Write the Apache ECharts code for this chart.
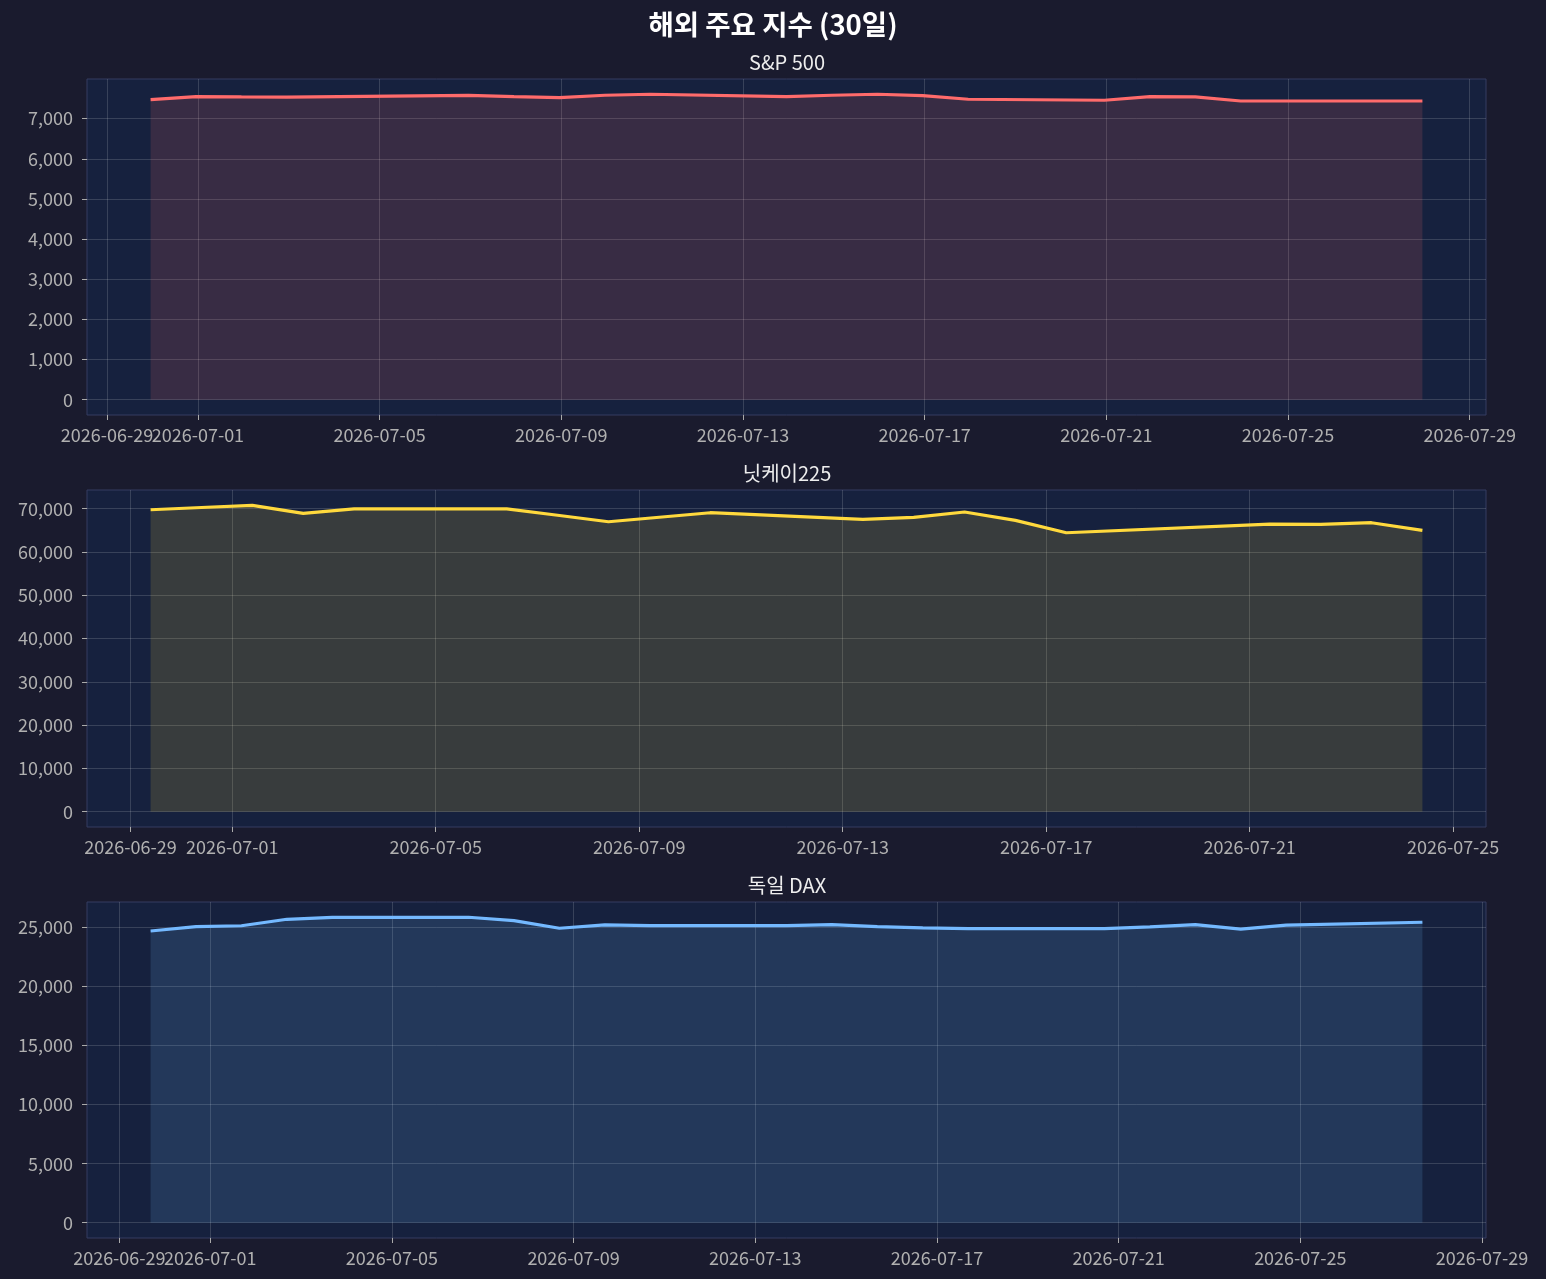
<!DOCTYPE html>
<html>
<head>
<meta charset="utf-8">
<title>해외 주요 지수 (30일)</title>
<script src="https://cdn.jsdelivr.net/npm/echarts@6/dist/echarts.min.js"></script>
<style>
    html, body { margin: 0; padding: 0; background: #1a1b2e; }
    #chart { width: 1546px; height: 1279px; }
</style>
</head>
<body>
<div id="chart"></div>
<script>
// S&P 500 (종가 시각 포함)
var spDates = ['2026-06-29 23:00', '2026-06-30 23:00', '2026-07-01 23:00', '2026-07-02 23:00',
    '2026-07-06 23:00', '2026-07-07 23:00', '2026-07-08 23:00', '2026-07-09 23:00', '2026-07-10 23:00',
    '2026-07-13 23:00', '2026-07-14 23:00', '2026-07-15 23:00', '2026-07-16 23:00', '2026-07-17 23:00',
    '2026-07-20 23:00', '2026-07-21 23:00', '2026-07-22 23:00', '2026-07-23 23:00', '2026-07-24 23:00',
    '2026-07-27 23:00'];
var spValues = [7473, 7548, 7540, 7535,
    7578, 7548, 7523, 7583, 7607,
    7548, 7583, 7607, 7573, 7483,
    7458, 7548, 7540, 7440, 7440,
    7440];

// 닛케이225
var nkDates = ['2026-06-29 09:30', '2026-06-30 09:30', '2026-07-01 09:30', '2026-07-02 09:30', '2026-07-03 09:30',
    '2026-07-06 09:30', '2026-07-07 09:30', '2026-07-08 09:30', '2026-07-09 09:30', '2026-07-10 09:30',
    '2026-07-13 09:30', '2026-07-14 09:30', '2026-07-15 09:30', '2026-07-16 09:30', '2026-07-17 09:30',
    '2026-07-21 09:30', '2026-07-22 09:30', '2026-07-23 09:30', '2026-07-24 09:30'];
var nkValues = [69760, 70270, 70780, 68930, 69950,
    69950, 68490, 66990, 68030, 69070,
    67530, 68000, 69230, 67300, 64440,
    66450, 66380, 66760, 64990];

// 독일 DAX
var daxDates = ['2026-06-29 16:30', '2026-06-30 16:30', '2026-07-01 16:30', '2026-07-02 16:30', '2026-07-03 16:30',
    '2026-07-06 16:30', '2026-07-07 16:30', '2026-07-08 16:30', '2026-07-09 16:30', '2026-07-10 16:30',
    '2026-07-13 16:30', '2026-07-14 16:30', '2026-07-15 16:30', '2026-07-16 16:30', '2026-07-17 16:30',
    '2026-07-20 16:30', '2026-07-21 16:30', '2026-07-22 16:30', '2026-07-23 16:30', '2026-07-24 16:30',
    '2026-07-27 16:30'];
var daxValues = [24710, 25085, 25150, 25700, 25860,
    25870, 25590, 24940, 25220, 25170,
    25170, 25240, 25085, 24980, 24910,
    24910, 25050, 25250, 24860, 25200,
    25450];

// 눈금
var dateTicks = ['2026-06-29', '2026-07-01', '2026-07-05', '2026-07-09', '2026-07-13',
    '2026-07-17', '2026-07-21', '2026-07-25', '2026-07-29'];
var spTicks = [0, 1000, 2000, 3000, 4000, 5000, 6000, 7000];
var nkTicks = [0, 10000, 20000, 30000, 40000, 50000, 60000, 70000];
var daxTicks = [0, 5000, 10000, 15000, 20000, 25000];

var FONT = '"Noto Sans CJK KR", "Noto Sans", sans-serif';
var LABEL_STYLE = { color: '#b0b0b0', fontSize: 18, fontFamily: FONT };

var indexChartManager = {
    //초기화
    initPage: function () {
        var myChart = echarts.init(document.getElementById('chart'), null, { renderer: 'canvas' });
        var panels = [
            { name: 'S&P 500', dates: spDates, values: spValues, ticks: spTicks, color: '#ff6b6b', top: 79, height: 336 },
            { name: '닛케이225', dates: nkDates, values: nkValues, ticks: nkTicks, color: '#ffd93d', top: 490, height: 337 },
            { name: '독일 DAX', dates: daxDates, values: daxValues, ticks: daxTicks, color: '#74b9ff', top: 902, height: 336 }
        ];
        var option = {
            backgroundColor: '#1a1b2e',
            animation: false,
            title: [{
                text: '해외 주요 지수 (30일)',
                left: 'center',
                top: 6,
                textStyle: { color: '#ffffff', fontSize: 27.5, fontWeight: 'bold', fontFamily: FONT }
            }],
            grid: [],
            xAxis: [],
            yAxis: [],
            series: []
        };
        for (var i = 0; i < panels.length; i++) {
            indexChartManager.addPanel(option, panels[i], i);
        }
        myChart.setOption(option);
    },
    //문자열 -> ms (로컬 시각)
    toTime: function (s) {
        var p = s.split(/[- :]/);
        return new Date(+p[0], +p[1] - 1, +p[2], +(p[3] || 0), +(p[4] || 0)).getTime();
    },
    //ms -> yyyy-MM-dd
    fmtDate: function (v) {
        var d = new Date(v);
        var mm = ('0' + (d.getMonth() + 1)).slice(-2), dd = ('0' + d.getDate()).slice(-2);
        return d.getFullYear() + '-' + mm + '-' + dd;
    },
    //패널 하나 추가
    addPanel: function (option, p, idx) {
        var times = p.dates.map(indexChartManager.toTime);
        var tickTimes = dateTicks.map(indexChartManager.toTime);
        var t0 = times[0], t1 = times[times.length - 1];
        var xPad = (t1 - t0) * 0.05;
        var yMin = Math.min(0, Math.min.apply(null, p.values)), yMax = Math.max.apply(null, p.values);
        var yPad = (yMax - yMin) * 0.05;
        var splitStyle = { color: 'rgba(255,255,255,0.15)', width: 1 };

        option.title.push({
            text: p.name,
            left: 782,
            textAlign: 'center',
            top: p.top - 32,
            textStyle: { color: '#eeeeee', fontSize: 20, fontWeight: 'normal', fontFamily: FONT }
        });
        option.grid.push({
            left: 87, right: 60, top: p.top, height: p.height,
            show: true,
            backgroundColor: '#16213e',
            borderColor: '#353d60',
            borderWidth: 1,
            containLabel: false
        });
        //주 x축: 눈금/격자 전체, 라벨은 첫 날짜 제외 (겹침 숨김 방지)
        var xIdx = option.xAxis.length;
        option.xAxis.push({
            type: 'value',
            gridIndex: idx,
            min: t0 - xPad,
            max: t1 + xPad,
            axisLine: { show: false, onZero: false },
            axisTick: { show: true, length: 5, lineStyle: { color: '#aaaaaa' }, customValues: tickTimes },
            axisLabel: echarts.util.extend({
                margin: 11, hideOverlap: false, showMinLabel: true, showMaxLabel: true,
                customValues: tickTimes.slice(1),
                formatter: indexChartManager.fmtDate
            }, LABEL_STYLE),
            splitLine: { show: true, lineStyle: splitStyle }
        });
        //보조 x축: 첫 날짜 라벨만
        option.xAxis.push({
            type: 'value',
            gridIndex: idx,
            position: 'bottom',
            min: t0 - xPad,
            max: t1 + xPad,
            axisLine: { show: false, onZero: false },
            axisTick: { show: false },
            splitLine: { show: false },
            axisLabel: echarts.util.extend({
                margin: 11, showMinLabel: true, showMaxLabel: true,
                customValues: tickTimes.slice(0, 1),
                formatter: indexChartManager.fmtDate
            }, LABEL_STYLE)
        });
        option.yAxis.push({
            type: 'value',
            gridIndex: idx,
            min: yMin - yPad,
            max: yMax + yPad,
            axisLine: { show: false },
            axisTick: { show: true, length: 5, lineStyle: { color: '#aaaaaa' }, customValues: p.ticks },
            axisLabel: echarts.util.extend({
                margin: 14, showMinLabel: true, showMaxLabel: true,
                customValues: p.ticks,
                formatter: function (v) {
                    return Number(v).toLocaleString('en-US');
                }
            }, LABEL_STYLE),
            splitLine: { show: true, lineStyle: splitStyle }
        });
        option.series.push({
            type: 'line',
            name: p.name,
            xAxisIndex: xIdx,
            yAxisIndex: idx,
            data: times.map(function (t, j) { return [t, p.values[j]]; }),
            showSymbol: false,
            lineStyle: { color: p.color, width: 3.2 },
            itemStyle: { color: p.color },
            areaStyle: { color: p.color, opacity: 0.15, origin: 'auto' }
        });
    }
};

indexChartManager.initPage();
</script>
</body>
</html>
